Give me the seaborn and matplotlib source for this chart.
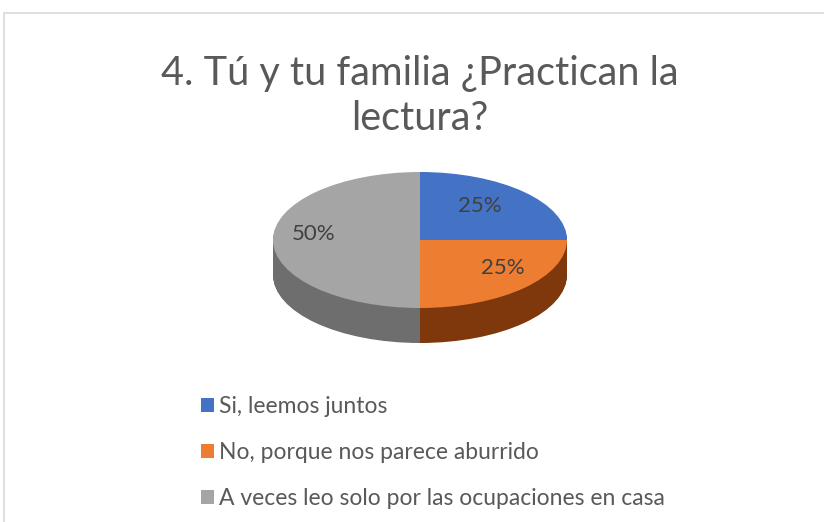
import numpy as np
import matplotlib
matplotlib.use('Agg')
import matplotlib.pyplot as plt
import seaborn as sns
from matplotlib.patches import Rectangle

# Data
categories = ['Si, leemos juntos',
              'No, porque nos parece aburrido',
              'A veces leo solo por las ocupaciones en casa']
shares = [25, 25, 50]
top_colors = ['#4472C4', '#ED7D31', '#A5A5A5']
side_colors = ['#2F528F', '#7E380B', '#6E6E6E']
title = '4. Tú y tu familia ¿Practican la\nlectura?'

sns.set_theme(style='white')
plt.rcParams['font.family'] = ['Lato', 'DejaVu Sans']

W, H = 824, 522
fig = plt.figure(figsize=(W / 100, H / 100), dpi=100)
fig.patch.set_facecolor('white')

# pixel geometry of the ellipse
cx, cy, rx, ry = 420, 240, 147, 68
depth = 35 / ry

ax = fig.add_axes([0, 0, 1, 1])

# side of the 3D pie: stacked darker pies
for d in np.linspace(depth, 0.02, 40):
    ax.pie(shares, colors=side_colors, startangle=90, counterclock=False,
           center=(0, -d), radius=1, wedgeprops=dict(linewidth=0))

wedges, texts, autotexts = ax.pie(
    shares, colors=top_colors, startangle=90, counterclock=False,
    center=(0, 0), radius=1, autopct='%1.0f%%', pctdistance=0.66,
    wedgeprops=dict(linewidth=0),
    textprops=dict(color='#404040', fontsize=16))

# Excel places the labels with perspective; nudge to match (pixel targets)
label_px = [(480, 206), (503, 268), (314, 234)]
for t, (px, py) in zip(autotexts, label_px):
    t.set_position(((px - cx) / rx, (cy - py) / ry))

ax.set_aspect('auto')
ax.set_xlim(-cx / rx, (W - cx) / rx)
ax.set_ylim((cy - H) / ry, cy / ry)
ax.axis('off')

# chart border
fig.patches.append(Rectangle((4 / W, -0.1), 1.2, 1 - 13 / H + 0.1,
                             transform=fig.transFigure, fill=False,
                             edgecolor='#D9D9D9', linewidth=1.2))

fig.text(420 / W, 1 - 96 / H, title, ha='center', va='center',
         fontsize=28.5, color='#595959', linespacing=1.3)

ax.legend(wedges, categories, loc='upper left',
          bbox_to_anchor=(201 / W, 1 - 396 / H), bbox_transform=fig.transFigure,
          frameon=False, fontsize=16.5, labelcolor='#595959',
          handlelength=0.55, handleheight=0.55, handletextpad=0.25,
          labelspacing=1.1, borderpad=0, borderaxespad=0)

fig.savefig('out.png', dpi=100)
